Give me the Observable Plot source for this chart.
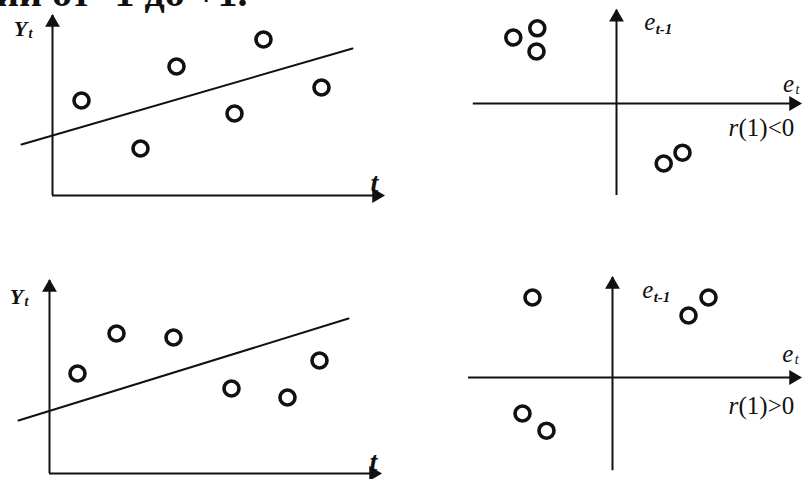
<!DOCTYPE html>
<html>
<head>
<meta charset="utf-8">
<script src="https://cdn.jsdelivr.net/npm/d3@7"></script>
<script src="https://cdn.jsdelivr.net/npm/@observablehq/plot@0.6"></script>
<style>
  html, body { margin: 0; padding: 0; background: #fff; }
  #page { position: relative; width: 805px; height: 479px; overflow: hidden; background: #fff; }
  #page svg { position: absolute; left: 0; top: 0; background: transparent; overflow: visible; }
</style>
</head>
<body>
<div id="page"></div>
<script>
// ---- data ----
// Panel A (top-left): Y_t against t, with trend line
const aT = [0.58, 1.76, 2.48, 3.64, 4.22, 5.38];
const aY = [1.9, 0.94, 2.58, 1.64, 3.12, 2.16];
const aTrendT = [-0.62, 6.0];
const aTrendY = [1.02, 2.94];
// Panel B (top-right): e_{t-1} against e_t, r(1)<0
const bE = [-2.58, -1.98, -2.0, 1.18, 1.65];
const bEprev = [1.65, 1.88, 1.3, -1.5, -1.23];
// Panel C (bottom-left): Y_t against t, with trend line
const cT = [0.56, 1.34, 2.48, 3.64, 4.76, 5.4];
const cY = [2.0, 2.8, 2.72, 1.7, 1.52, 2.26];
const cTrendT = [-0.62, 5.98];
const cTrendY = [1.06, 3.1];
// Panel D (bottom-right): e_{t-1} against e_t, r(1)>0
const dE = [-2.0, 1.9, 2.4, -2.25, -1.65];
const dEprev = [2.0, 1.55, 2.0, -0.9, -1.33];
// labels
const headText = "ии от -1 до +1.";
const yLabel = ["Y", "t"];
const tLabel = "t";
const ePrevLabel = ["e", "t-1"];
const eLabel = ["e", "t"];
const rLabelB = ["r", "(1)<0"];
const rLabelD = ["r", "(1)>0"];

const serif = "Liberation Serif";
const page = document.getElementById("page");

// running text cut off at the top edge (as in the scanned page)
const head = d3.create("svg").attr("width", 805).attr("height", 479);
head.append("text").attr("x", -4).attr("y", 6)
  .attr("font-family", serif).attr("font-weight", "bold").attr("font-size", 40)
  .attr("fill", "#111").text(headText);
page.appendChild(head.node());

function zip(xs, ys) { return xs.map((x, i) => ({x, y: ys[i]})); }

function panel(cfg) {
  const {x0, y0, k, xd, yd, marks} = cfg;
  const [xmin, xmax] = xd, [ymin, ymax] = yd;
  const svg = Plot.plot({
    width: 805, height: 479, margin: 0,
    style: {background: "transparent", overflow: "visible"},
    x: {domain: xd, range: xd.map(v => x0 + v * k), axis: null},
    y: {domain: yd, range: yd.map(v => y0 - v * k), axis: null},
    marks: [
      Plot.ruleX([0], {y1: ymin, y2: ymax, stroke: "#111", strokeWidth: 2}),
      Plot.ruleY([0], {x1: xmin, x2: xmax, stroke: "#111", strokeWidth: 2}),
      Plot.dot([{x: 0, y: ymax}], {x: "x", y: "y", symbol: "triangle", r: 5.5, fill: "#111", dy: 7}),
      Plot.dot([{x: xmax, y: 0}], {x: "x", y: "y", symbol: "triangle", r: 5.5, fill: "#111", rotate: 90, dx: -7}),
      ...marks
    ]
  });
  page.appendChild(svg);
}

function circles(xs, ys) {
  return Plot.dot(zip(xs, ys), {x: "x", y: "y", r: 7.5, stroke: "#111", strokeWidth: 3.6, fill: "none"});
}

function timeMarks(T, Y, TT, TY, pos) {
  return [
    Plot.line(zip(TT, TY), {x: "x", y: "y", stroke: "#111", strokeWidth: 2}),
    circles(T, Y),
    Plot.text([yLabel[0]], {x: pos.Y[0], y: pos.Y[1], text: d => d, fontFamily: serif, fontStyle: "italic", fontWeight: "bold", fontSize: 22, fill: "#111"}),
    Plot.text([yLabel[1]], {x: pos.Y[0], y: pos.Y[1], dx: 10, dy: 5, text: d => d, fontFamily: serif, fontStyle: "italic", fontWeight: "bold", fontSize: 14, fill: "#111"}),
    Plot.text([tLabel], {x: pos.t[0], y: pos.t[1], text: d => d, fontFamily: serif, fontStyle: "italic", fontWeight: "bold", fontSize: 28, fill: "#111"})
  ];
}

function lagMarks(E, P, rl, pos) {
  return [
    circles(E, P),
    Plot.text([ePrevLabel[0]], {x: pos.ep[0], y: pos.ep[1], text: d => d, fontFamily: serif, fontStyle: "italic", fontSize: 25, fill: "#111"}),
    Plot.text([ePrevLabel[1]], {x: pos.ep[0], y: pos.ep[1], dx: 6, dy: 7, textAnchor: "start", text: d => d, fontFamily: serif, fontStyle: "italic", fontWeight: "bold", fontSize: 15, fill: "#111"}),
    Plot.text([eLabel[0]], {x: pos.e[0], y: pos.e[1], text: d => d, fontFamily: serif, fontStyle: "italic", fontSize: 25, fill: "#111"}),
    Plot.text([eLabel[1]], {x: pos.e[0], y: pos.e[1], dx: 9, dy: 6, text: d => d, fontFamily: serif, fontStyle: "italic", fontSize: 14, fill: "#111"}),
    Plot.text([rl[0]], {x: pos.r[0], y: pos.r[1], textAnchor: "start", text: d => d, fontFamily: serif, fontStyle: "italic", fontSize: 25, fill: "#111"}),
    Plot.text([rl[1]], {x: pos.r[0], y: pos.r[1], dx: 10, textAnchor: "start", text: d => d, fontFamily: serif, fontSize: 25, fill: "#111"})
  ];
}

// top-left
panel({x0: 52, y0: 195, k: 50, xd: [0, 6.62], yd: [0, 3.6],
  marks: timeMarks(aT, aY, aTrendT, aTrendY, {Y: [-0.64, 3.34], t: [6.44, 0.24]})});
// top-right
panel({x0: 616, y0: 103, k: 40, xd: [-3.58, 4.6], yd: [-2.3, 2.33],
  marks: lagMarks(bE, bEprev, rLabelB, {ep: [0.83, 2.03], e: [4.3, 0.5], r: [2.8, -0.6]})});
// bottom-left
panel({x0: 49, y0: 473, k: 50, xd: [0, 6.62], yd: [0, 3.86],
  marks: timeMarks(cT, cY, cTrendT, cTrendY, {Y: [-0.66, 3.54], t: [6.48, 0.22]})});
// bottom-right
panel({x0: 612, y0: 377, k: 40, xd: [-3.6, 4.7], yd: [-2.33, 2.5],
  marks: lagMarks(dE, dEprev, rLabelD, {ep: [0.88, 2.18], e: [4.38, 0.6], r: [2.9, -0.72]})});
</script>
</body>
</html>
